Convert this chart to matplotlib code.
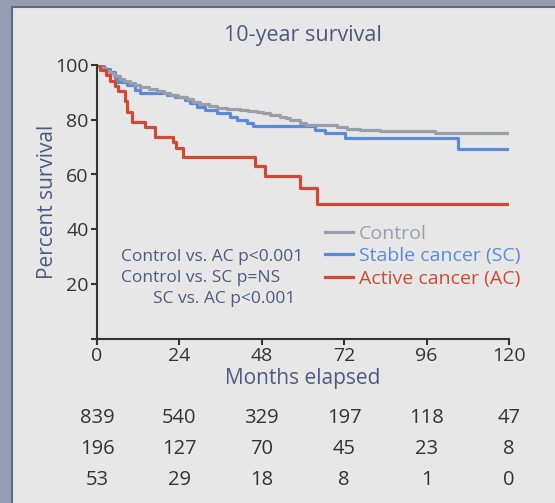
import matplotlib.pyplot as plt
import matplotlib.transforms as mtransforms
from matplotlib.patches import Rectangle
from matplotlib.lines import Line2D

plt.rcParams['font.family'] = ['Open Sans', 'DejaVu Sans']

# Kaplan-Meier step values (months, percent surviving)
t_ct = [0, 1, 2.5, 3.8, 5, 6.7, 8, 9.6, 11, 12.5, 15, 17.4, 19.5, 21.3, 23.5, 26.1, 28, 30,
        32.5, 34.9, 38, 41.7, 44, 46.5, 48.4, 50.5, 53.3, 55, 56.2, 59.1, 61, 69.8, 72.7,
        76.6, 82.4, 98.5, 120]
s_ct = [100, 99.0, 97.8, 96.9, 95.8, 94.9, 94.2, 93.5, 92.8, 92.1, 91.2, 90.5, 89.8, 89.1,
        88.3, 87.4, 86.5, 85.6, 84.9, 84.3, 83.9, 83.4, 83.1, 82.7, 82.3, 81.7, 81.1, 80.5,
        79.9, 78.9, 78.1, 77.3, 76.6, 76.3, 75.8, 75.0, 75.0]

t_sc = [0, 0.5, 2, 3.8, 5.2, 6.2, 8.6, 11, 12.5, 20.3, 22.7, 25.6, 27, 29, 31.5, 34.9, 38.7,
        40.7, 43.6, 45.5, 63.5, 66.4, 72.2, 105.2, 120]
s_sc = [100, 99.5, 98.6, 97.6, 95.1, 93.9, 92.7, 90.9, 89.7, 89.0, 88.4, 87.2, 86.0, 84.8,
        83.6, 82.4, 81.1, 79.9, 78.7, 77.7, 76.3, 75.0, 73.2, 69.3, 69.3]

t_ac = [0, 0.8, 2.5, 3.8, 5.2, 6.2, 8.2, 8.8, 10.1, 14, 17, 22, 23, 25, 46, 49, 59, 64, 120]
s_ac = [100, 98.1, 96.2, 94.3, 92.5, 90.6, 86.8, 83.0, 79.2, 77.4, 73.6, 71.7, 69.8, 66.5,
        63.0, 59.5, 55.0, 49.2, 49.2]

x_ticks = [0, 24, 48, 72, 96, 120]
y_ticks = [0, 20, 40, 60, 80, 100]
y_ticklabels = ['', '20', '40', '60', '80', '100']

at_risk_ct = [839, 540, 329, 197, 118, 47]
at_risk_sc = [196, 127, 70, 45, 23, 8]
at_risk_ac = [53, 29, 18, 8, 1, 0]

stats = ['Control vs. AC p<0.001', 'Control vs. SC p=NS', 'SC vs. AC p<0.001']

c_ct = '#9b9da9'
c_sc = '#5b8ad6'
c_ac = '#cc4a36'
c_text = '#4b5a7e'
c_dark = '#333333'

W, H = 555, 503
fig = plt.figure(figsize=(W / 100, H / 100), dpi=100)
fig.patch.set_facecolor('#979db1')

# panel background with a dark edge on the left and top
fig.patches.append(Rectangle((12 / W, -0.01), 1, 1.01 - 7 / H, transform=fig.transFigure,
                             facecolor='#e7e7e7', edgecolor='#5b6b8c', linewidth=1.5,
                             zorder=-10))

ax = fig.add_axes([97 / W, (H - 338.75) / H, 412 / W, 273.75 / H])
ax.set_facecolor('none')

ax.step(t_sc, s_sc, where='post', color=c_sc, lw=2.3)
ax.step(t_ct, s_ct, where='post', color=c_ct, lw=2.3)
ax.step(t_ac, s_ac, where='post', color=c_ac, lw=2.3)

ax.set_xlim(0, 120)
ax.set_ylim(0, 100)
ax.set_xticks(x_ticks)
ax.set_yticks(y_ticks)
ax.set_yticklabels(y_ticklabels)
for s in ['top', 'right']:
    ax.spines[s].set_visible(False)
for s in ['left', 'bottom']:
    ax.spines[s].set_color(c_dark)
    ax.spines[s].set_linewidth(1.5)
ax.tick_params(colors=c_dark, labelcolor=c_dark, labelsize=14, width=1.5, length=4, pad=2)

ax.set_xlabel('Months elapsed', color=c_text, fontsize=15, labelpad=2)
ax.set_ylabel('Percent survival', color=c_text, fontsize=15, labelpad=-2)
ax.set_title('10-year survival', color=c_text, fontsize=15.5, pad=17)

handles = [Line2D([], [], color=c, lw=2.3) for c in (c_ct, c_sc, c_ac)]
ax.legend(handles, ['Control', 'Stable cancer (SC)', 'Active cancer (AC)'],
          loc='upper left', bbox_to_anchor=((325 - 97) / 412, 1 - (225 - 65) / 273.75),
          frameon=False, fontsize=14, labelcolor=[c_ct, c_sc, c_ac],
          handlelength=1.45, handletextpad=0.3, labelspacing=0.22, borderpad=0,
          borderaxespad=0)

for txt, px, py in zip(stats, [121, 121, 153], [257, 278, 299]):
    fig.text(px / W, 1 - py / H, txt, fontsize=12.5, color=c_text, va='center')

trans = mtransforms.blended_transform_factory(ax.transData, fig.transFigure)
for row, py in zip([at_risk_ct, at_risk_sc, at_risk_ac], [418, 449, 480]):
    for x, n in zip(x_ticks, row):
        ax.text(x, 1 - py / H, str(n), transform=trans, ha='center', va='center',
                fontsize=14.5, color=c_dark, clip_on=False)

fig.savefig('out.png', dpi=100, facecolor=fig.get_facecolor())
